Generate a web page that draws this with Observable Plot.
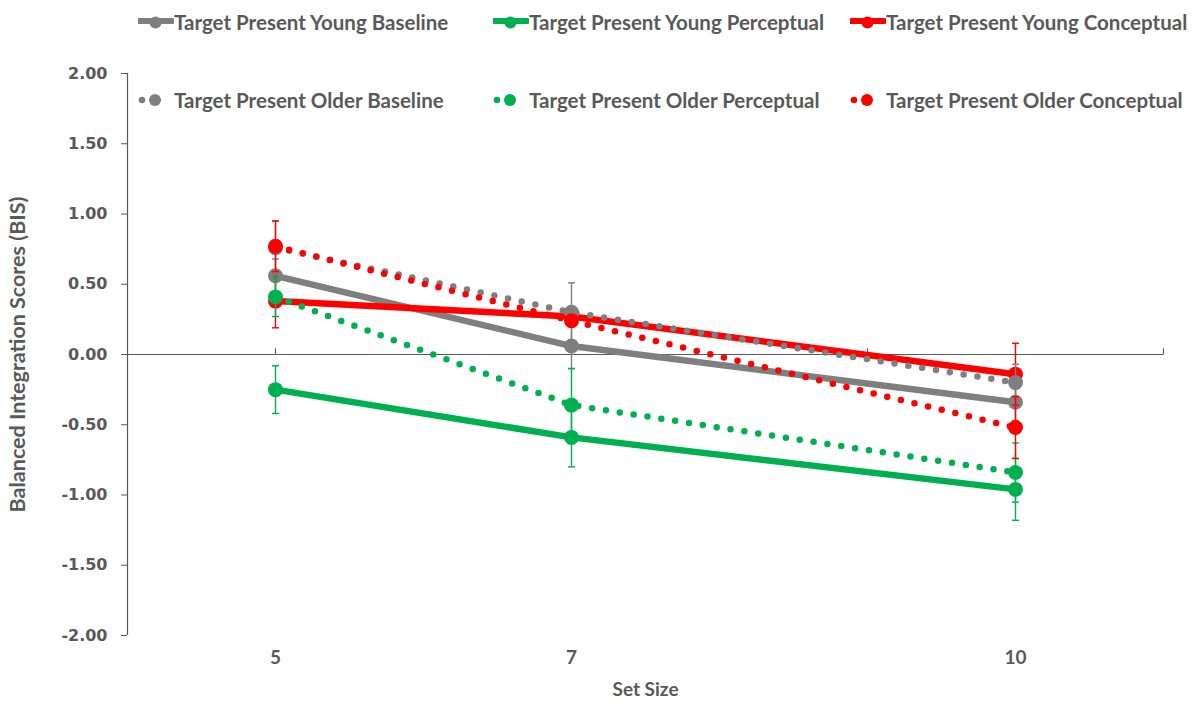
<!DOCTYPE html>
<html>
<head>
<meta charset="utf-8">
<script src="https://cdn.jsdelivr.net/npm/d3@7"></script>
<script src="https://cdn.jsdelivr.net/npm/@observablehq/plot@0.6"></script>
<style>
  html, body { margin: 0; padding: 0; background: #fff; }
  #chart { position: relative; width: 1201px; height: 706px; }
  #chart svg g[aria-label="y-axis tick label"] { font-family: "DejaVu Sans", sans-serif; font-weight: bold; font-size: 16px; }
  .legend { position: absolute; left: 0; top: 0; width: 1201px; height: 120px; pointer-events: none;
            font-family: Lato, "Open Sans", sans-serif; font-weight: bold; font-size: 20.5px; color: #595959; }
  .item { position: absolute; display: flex; align-items: center; white-space: nowrap; height: 20px; }
  .item svg { flex: none; }
</style>
</head>
<body>
<div id="chart"></div>
<script>
// Set sizes on the x axis
const setSizes = [5, 7, 10];
const xTickLabels = ["5", "7", "10"];
const xTickMarks = [5, 7, 9, 11];
const yTicks = [-2, -1.5, -1, -0.5, 0, 0.5, 1, 1.5, 2];

// Mean BIS per set size
const youngBaseline   = [0.56, 0.06, -0.34];
const youngPerceptual = [-0.25, -0.59, -0.96];
const youngConceptual = [0.38, 0.27, -0.14];
const olderBaseline   = [0.76, 0.30, -0.20];
const olderPerceptual = [0.41, -0.36, -0.84];
const olderConceptual = [0.77, 0.24, -0.52];

// Error bar half-lengths per set size
const youngBaselineErr   = [0.12, 0.16, 0.13];
const youngPerceptualErr = [0.17, 0.21, 0.22];
const youngConceptualErr = [0.19, 0.05, 0.22];
const olderBaselineErr   = [0.19, 0.21, 0.13];
const olderPerceptualErr = [0.14, 0.26, 0.21];
const olderConceptualErr = [0.18, 0.04, 0.22];

const seriesNames = [
  "Target Present Young Baseline", "Target Present Young Perceptual", "Target Present Young Conceptual",
  "Target Present Older Baseline", "Target Present Older Perceptual", "Target Present Older Conceptual"
];
const seriesColors = ["#7f7f7f", "#00b050", "#ff0000", "#7f7f7f", "#00b050", "#ff0000"];
const seriesDotted = [false, false, false, true, true, true];
const seriesValues = [youngBaseline, youngPerceptual, youngConceptual, olderBaseline, olderPerceptual, olderConceptual];
const seriesErrors = [youngBaselineErr, youngPerceptualErr, youngConceptualErr, olderBaselineErr, olderPerceptualErr, olderConceptualErr];

// Long-format table built from the arrays above
const rows = seriesNames.flatMap((name, i) => setSizes.map((x, j) => ({
  name, x, y: seriesValues[i][j], err: seriesErrors[i][j],
  color: seriesColors[i], dotted: seriesDotted[i], order: i
})));

const textColor = "#595959";
const fixed2 = d3.format(".2f");
const yFormat = d => fixed2(d).replace("\u2212", "-");

// Short horizontal cap for the error bars
const capSymbol = { draw(ctx) { ctx.moveTo(-3.5, 0); ctx.lineTo(3.5, 0); } };
// Small upward tick on the zero line
const upTick = { draw(ctx) { ctx.moveTo(0, 0); ctx.lineTo(0, -6); } };

const marks = [
  Plot.ruleX([4], { stroke: textColor, strokeWidth: 1.2 }),
  Plot.ruleY([0], { stroke: textColor, strokeWidth: 1.2 }),
  Plot.dot(xTickMarks, { x: d => d, y: 0, symbol: upTick, stroke: textColor, strokeWidth: 1.2, fill: null }),
  Plot.axisY({ ticks: yTicks, tickFormat: yFormat, tickSize: 6, tickPadding: 14, label: null,
               fontFamily: "DejaVu Sans", fontWeight: "bold", fontSize: 16 }),
  Plot.text(setSizes, { x: d => d, text: (d, i) => xTickLabels[i], frameAnchor: "bottom", dy: 28,
               fontFamily: "Lato", fontWeight: "bold", fontSize: 19, fill: textColor }),
  Plot.text(["Set Size"], { frameAnchor: "bottom", dy: 60, fontFamily: "Lato", fontWeight: "bold", fontSize: 19, fill: textColor }),
  Plot.text(["Balanced Integration Scores (BIS)"], { frameAnchor: "left", textAnchor: "middle", dx: -109, rotate: -90,
               fontFamily: "Lato", fontWeight: "bold", fontSize: 21.5, fill: textColor })
];

seriesNames.forEach((name, i) => {
  const data = rows.filter(d => d.order === i);
  marks.push(
    Plot.line(data, { x: "x", y: "y", stroke: seriesColors[i], strokeWidth: 6.5, strokeLinecap: "round",
                      strokeDasharray: seriesDotted[i] ? "0 14" : null })
  );
});
seriesNames.forEach((name, i) => {
  const data = rows.filter(d => d.order === i);
  marks.push(
    Plot.dot(data, { x: "x", y: "y", r: 7.5, fill: seriesColors[i], stroke: null }),
    Plot.ruleX(data, { x: "x", y1: d => d.y - d.err, y2: d => d.y + d.err, stroke: seriesColors[i], strokeWidth: 1.4 }),
    Plot.dot(data, { x: "x", y: d => d.y + d.err, symbol: capSymbol, stroke: seriesColors[i], strokeWidth: 1.4, fill: null }),
    Plot.dot(data, { x: "x", y: d => d.y - d.err, symbol: capSymbol, stroke: seriesColors[i], strokeWidth: 1.4, fill: null })
  );
});

const chart = Plot.plot({
  width: 1201,
  height: 706,
  marginLeft: 127,
  marginRight: 38,
  marginTop: 73,
  marginBottom: 71,
  style: { background: "#fff", color: textColor, overflow: "visible" },
  x: { domain: [4, 11], axis: null },
  y: { domain: [-2, 2], axis: null },
  marks
});

const container = document.getElementById("chart");
container.appendChild(chart);

// Legend: two rows of three entries laid over the top of the chart
const legend = document.createElement("div");
legend.className = "legend";
const colLeft = [138, 493, 850];
const rowTop = [12, 90];
seriesNames.forEach((name, i) => {
  const row = i < 3 ? 0 : 1;
  const col = i % 3;
  const item = document.createElement("div");
  item.className = "item";
  item.style.left = colLeft[col] + "px";
  item.style.top = rowTop[row] + "px";
  const sym = d3.create("svg").attr("width", 36).attr("height", 20);
  if (!seriesDotted[i]) {
    sym.append("line").attr("x1", 1).attr("x2", 34).attr("y1", 9).attr("y2", 9)
      .attr("stroke", seriesColors[i]).attr("stroke-width", 6).attr("stroke-linecap", "round");
    sym.append("circle").attr("cx", 17.5).attr("cy", 10.5).attr("r", 6).attr("fill", seriesColors[i]);
  } else {
    sym.append("circle").attr("cx", 4).attr("cy", 10).attr("r", 3.3).attr("fill", seriesColors[i]);
    sym.append("circle").attr("cx", 17).attr("cy", 10).attr("r", 6).attr("fill", seriesColors[i]);
  }
  item.appendChild(sym.node());
  const label = document.createElement("span");
  label.textContent = name;
  item.appendChild(label);
  legend.appendChild(item);
});
container.appendChild(legend);
</script>
</body>
</html>
